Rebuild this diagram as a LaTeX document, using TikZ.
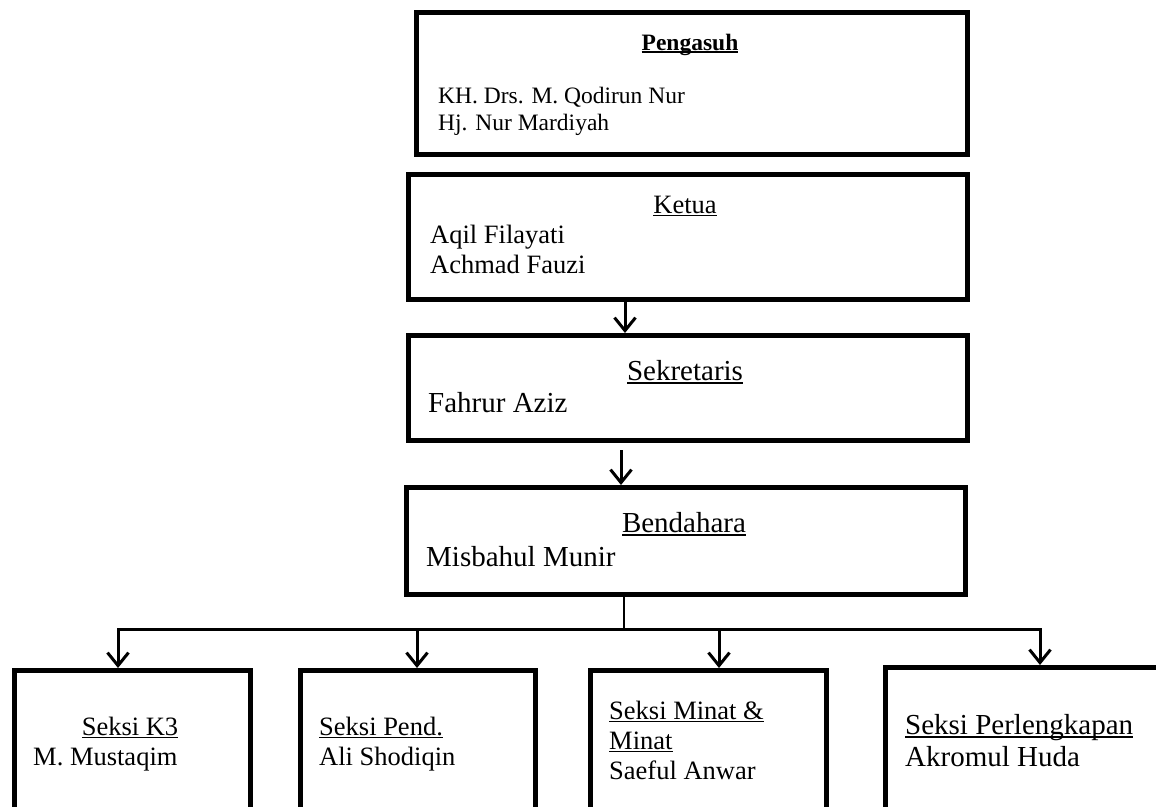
\documentclass[tikz,border=0pt]{standalone}
\usepackage{fontspec}
\setmainfont{Liberation Serif}
\usetikzlibrary{arrows.meta,positioning}

\newcommand{\szA}{\fontsize{23.5pt}{27pt}\selectfont}
\newcommand{\szB}{\fontsize{26.5pt}{30pt}\selectfont}
\newcommand{\szC}{\fontsize{29pt}{33pt}\selectfont}
% word style underline, drawn through the descenders
\newcommand{\undl}[2][0.06em]{\setbox0\hbox{#2}\rlap{\rule[-0.13em]{\wd0}{#1}}\box0}

\begin{document}
\begin{tikzpicture}[x=1pt,y=-1pt,>={Straight Barb[length=13pt,width=21pt]},
                    orgbox/.style={draw,rectangle,line width=5pt,inner sep=0pt,anchor=north west},
                    link/.style={->,line width=3pt},
                    txt/.style={inner sep=0pt,anchor=base west},
                    ttl/.style={inner sep=0pt,anchor=base}]
\useasboundingbox (0,0) rectangle (1156,806);
\clip (0,0) rectangle (1156,806);

  % upper column
  \node[orgbox,minimum width=551pt,minimum height=142pt] (peng)  at (414,10)  {};
  \node[orgbox,minimum width=559pt,minimum height=125pt] (ketua) at (406,172) {};
  \node[orgbox,minimum width=559pt,minimum height=105pt] (sekr)  at (406,333) {};
  \node[orgbox,minimum width=559pt,minimum height=107pt] (bend)  at (404,485) {};

  % seksi boxes
  \node[orgbox,minimum width=236pt,minimum height=170pt] (k3)    at (12,668)  {};
  \node[orgbox,minimum width=235pt,minimum height=170pt] (pend)  at (298,668) {};
  \node[orgbox,minimum width=236pt,minimum height=170pt] (minat) at (588,668) {};
  \node[orgbox,minimum width=320pt,minimum height=170pt] (perl)  at (883,665) {};

  % texts
  \node[ttl,font=\szA\bfseries] (pengT) at (690,50)  {\undl[0.09em]{Pengasuh}};
  \node[txt,font=\szA]          (pengA) at (438,103) {KH. Drs. M. Qodirun Nur};
  \node[txt,font=\szA]          (pengB) at (438,130) {Hj. Nur Mardiyah};

  \node[ttl,font=\szB] (ketuaT) at (685,213) {\undl{Ketua}};
  \node[txt,font=\szB] (ketuaA) at (430,243) {Aqil Filayati};
  \node[txt,font=\szB] (ketuaB) at (430,273) {Achmad Fauzi};

  \node[ttl,font=\szC] (sekrT) at (685,380) {\undl{Sekretaris}};
  \node[txt,font=\szC] (sekrA) at (428,412) {Fahrur Aziz};

  \node[ttl,font=\szC] (bendT) at (684,532) {\undl{Bendahara}};
  \node[txt,font=\szC] (bendA) at (426,566) {Misbahul Munir};

  \node[ttl,font=\szB] (k3T) at (130,735) {\undl{Seksi K3}};
  \node[txt,font=\szB] (k3A) at (33,765)  {M. Mustaqim};

  \node[txt,font=\szB] (pendT) at (319,735) {\undl{Seksi Pend.}};
  \node[txt,font=\szB] (pendA) at (319,765) {Ali Shodiqin};

  \node[txt,font=\szB] (minatT) at (609,719) {\undl{Seksi Minat \&}};
  \node[txt,font=\szB] (minatU) at (609,749) {\undl{Minat}};
  \node[txt,font=\szB] (minatA) at (609,779) {Saeful Anwar};

  \node[txt,font=\szC] (perlT) at (905,734) {\undl{Seksi Perlengkapan}};
  \node[txt,font=\szC] (perlA) at (905,766) {Akromul Huda};

  % connectors
  \coordinate (spineA) at (625,0);
  \coordinate (spineB) at (621,0);
  \coordinate (spineC) at (624,0);
  \draw[link] (ketua.south -| spineA) -- (sekr.north -| spineA);
  \draw[link,shorten <=7pt] (sekr.south -| spineB) -- (bend.north -| spineB);

  \coordinate (b1) at (118,629);
  \coordinate (b2) at (417,629);
  \coordinate (b3) at (719,629);
  \coordinate (b4) at (1040,629);
  \draw[line width=2pt] (bend.south -| spineC) -- (b1 -| spineC);
  \draw[line width=3pt,line cap=rect] (b1) -- (b4);
  \foreach \from/\to in {b1/k3,b2/pend,b3/minat,b4/perl}
    \draw[link] (\from) -- (\from |- \to.north);

\end{tikzpicture}
\end{document}
